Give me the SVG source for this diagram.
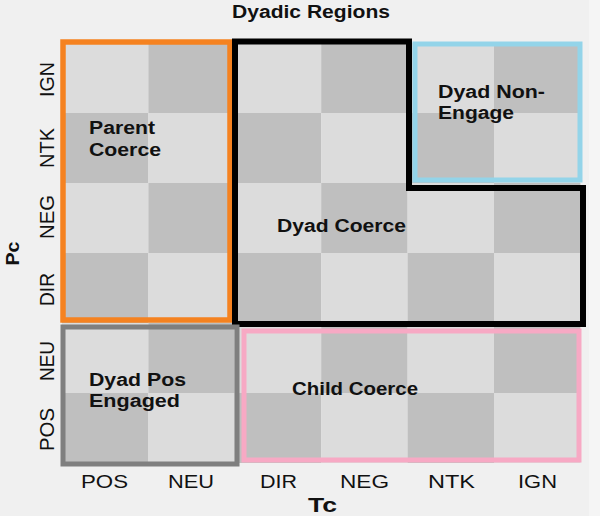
<svg xmlns="http://www.w3.org/2000/svg" width="600" height="516" viewBox="0 0 600 516">
<style>
.l{fill:#dcdcdc}.d{fill:#bfbfbf}
.lab{font-family:"Liberation Sans",Arial,sans-serif;font-weight:bold;font-size:18px;fill:#111}
.tick{font-family:"Liberation Sans",Arial,sans-serif;font-size:18px;fill:#111;text-anchor:middle}
.ax{font-family:"Liberation Sans",Arial,sans-serif;font-weight:bold;fill:#111;text-anchor:middle}
.box{fill:none}
</style>
<rect x="0" y="0" width="600" height="516" fill="#f0f0f0"/>
<rect x="589" y="0" width="11" height="516" fill="#f5f5f5"/>
<text class="ax" x="311" y="18" font-size="18" textLength="158" lengthAdjust="spacingAndGlyphs">Dyadic Regions</text>
<g id="grid">
<rect class="l" x="62" y="43" width="86.4" height="70"/><rect class="d" x="148.4" y="43" width="86.4" height="70"/><rect class="l" x="234.8" y="43" width="86.4" height="70"/><rect class="d" x="321.2" y="43" width="86.4" height="70"/><rect class="l" x="407.6" y="43" width="86.4" height="70"/><rect class="d" x="494" y="43" width="86.4" height="70"/>
<rect class="d" x="62" y="113" width="86.4" height="70"/><rect class="l" x="148.4" y="113" width="86.4" height="70"/><rect class="d" x="234.8" y="113" width="86.4" height="70"/><rect class="l" x="321.2" y="113" width="86.4" height="70"/><rect class="d" x="407.6" y="113" width="86.4" height="70"/><rect class="l" x="494" y="113" width="86.4" height="70"/>
<rect class="l" x="62" y="183" width="86.4" height="70"/><rect class="d" x="148.4" y="183" width="86.4" height="70"/><rect class="l" x="234.8" y="183" width="86.4" height="70"/><rect class="d" x="321.2" y="183" width="86.4" height="70"/><rect class="l" x="407.6" y="183" width="86.4" height="70"/><rect class="d" x="494" y="183" width="86.4" height="70"/>
<rect class="d" x="62" y="253" width="86.4" height="70"/><rect class="l" x="148.4" y="253" width="86.4" height="70"/><rect class="d" x="234.8" y="253" width="86.4" height="70"/><rect class="l" x="321.2" y="253" width="86.4" height="70"/><rect class="d" x="407.6" y="253" width="86.4" height="70"/><rect class="l" x="494" y="253" width="86.4" height="70"/>
<rect class="l" x="62" y="323" width="86.4" height="70"/><rect class="d" x="148.4" y="323" width="86.4" height="70"/><rect class="l" x="234.8" y="323" width="86.4" height="70"/><rect class="d" x="321.2" y="323" width="86.4" height="70"/><rect class="l" x="407.6" y="323" width="86.4" height="70"/><rect class="d" x="494" y="323" width="86.4" height="70"/>
<rect class="d" x="62" y="393" width="86.4" height="70"/><rect class="l" x="148.4" y="393" width="86.4" height="70"/><rect class="d" x="234.8" y="393" width="86.4" height="70"/><rect class="l" x="321.2" y="393" width="86.4" height="70"/><rect class="d" x="407.6" y="393" width="86.4" height="70"/><rect class="l" x="494" y="393" width="86.4" height="70"/>
</g>
<g id="parent-coerce">
<rect class="box" x="63" y="42" width="167" height="278" stroke="#f58220" stroke-width="5.5"/>
<text class="lab" x="89" y="134" textLength="66" lengthAdjust="spacingAndGlyphs">Parent</text>
<text class="lab" x="89" y="156" textLength="72" lengthAdjust="spacingAndGlyphs">Coerce</text>
</g>
<g id="dyad-coerce">
<path class="box" d="M235 41.5 H409 V188 H583 V324 H235 Z" stroke="#000" stroke-width="6" stroke-linejoin="miter"/>
<text class="lab" x="277" y="232" textLength="129" lengthAdjust="spacingAndGlyphs">Dyad Coerce</text>
</g>
<g id="dyad-non-engage">
<rect class="box" x="415" y="44" width="165" height="136" stroke="#93d4e9" stroke-width="5"/>
<text class="lab" x="438" y="98" textLength="107" lengthAdjust="spacingAndGlyphs">Dyad Non-</text>
<text class="lab" x="438" y="119" textLength="76" lengthAdjust="spacingAndGlyphs">Engage</text>
</g>
<g id="dyad-pos-engaged">
<rect class="box" x="63" y="327" width="174" height="137" stroke="#7f7f7f" stroke-width="5"/>
<text class="lab" x="89" y="386" textLength="97" lengthAdjust="spacingAndGlyphs">Dyad Pos</text>
<text class="lab" x="89" y="407" textLength="91" lengthAdjust="spacingAndGlyphs">Engaged</text>
</g>
<g id="child-coerce">
<rect class="box" x="244" y="331" width="335" height="129" stroke="#f7a9c4" stroke-width="5"/>
<text class="lab" x="292" y="395" textLength="126" lengthAdjust="spacingAndGlyphs">Child Coerce</text>
</g>
<g id="x-axis">
<text class="tick" x="104.5" y="488" textLength="47" lengthAdjust="spacingAndGlyphs">POS</text>
<text class="tick" x="191" y="488" textLength="46" lengthAdjust="spacingAndGlyphs">NEU</text>
<text class="tick" x="278.5" y="488" textLength="37" lengthAdjust="spacingAndGlyphs">DIR</text>
<text class="tick" x="364.5" y="488" textLength="49" lengthAdjust="spacingAndGlyphs">NEG</text>
<text class="tick" x="451.5" y="488" textLength="47" lengthAdjust="spacingAndGlyphs">NTK</text>
<text class="tick" x="537.5" y="488" textLength="39" lengthAdjust="spacingAndGlyphs">IGN</text>
<text class="ax" x="322.5" y="512" font-size="21" textLength="29" lengthAdjust="spacingAndGlyphs">Tc</text>
</g>
<g id="y-axis">
<text class="tick" transform="translate(54,79.5) scale(1.12,1) rotate(-90)" font-size="20" textLength="35" lengthAdjust="spacingAndGlyphs">IGN</text>
<text class="tick" transform="translate(54,148) scale(1.12,1) rotate(-90)" font-size="20" textLength="40" lengthAdjust="spacingAndGlyphs">NTK</text>
<text class="tick" transform="translate(54,217) scale(1.12,1) rotate(-90)" font-size="20" textLength="44" lengthAdjust="spacingAndGlyphs">NEG</text>
<text class="tick" transform="translate(54,289.5) scale(1.12,1) rotate(-90)" font-size="20" textLength="33" lengthAdjust="spacingAndGlyphs">DIR</text>
<text class="tick" transform="translate(54,361) scale(1.12,1) rotate(-90)" font-size="20" textLength="40" lengthAdjust="spacingAndGlyphs">NEU</text>
<text class="tick" transform="translate(54,429.5) scale(1.12,1) rotate(-90)" font-size="20" textLength="43" lengthAdjust="spacingAndGlyphs">POS</text>
<text class="ax" transform="translate(19,253.5) rotate(-90)" font-size="19" textLength="24" lengthAdjust="spacingAndGlyphs">Pc</text>
</g>
</svg>
